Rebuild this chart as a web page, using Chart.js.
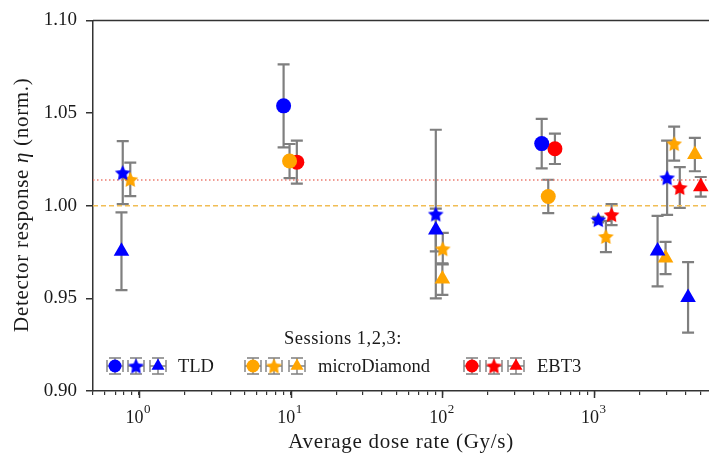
<!DOCTYPE html>
<html>
<head>
<meta charset="utf-8">
<script src="https://cdn.jsdelivr.net/npm/chart.js@4.4.0/dist/chart.umd.min.js"></script>
<style>
    html, body { margin: 0; padding: 0; background: #fff; }
</style>
</head>
<body>
<canvas id="grafico" width="709" height="458"></canvas>
<script>
// Dados (taxa de dose em Gy/s, resposta normalizada, erro)
// TLD
const doseTLD1 = [9.0, 451];
const etaTLD1 = [1.0539, 1.0335];
const errTLD1 = [0.0224, 0.0134];
const doseTLD2 = [0.785, 90.5, 1063, 3020];
const etaTLD2 = [1.0178, 0.9955, 0.9925, 1.0151];
const errTLD2 = [0.017, 0.0455, 0.0015, 0.020];
const doseTLD3 = [0.77, 90.5, 2613, 4150];
const etaTLD3 = [0.9754, 0.9869, 0.9755, 0.9505];
const errTLD3 = [0.021, 0.0115, 0.019, 0.019];

// microDiamond
const doseMD1 = [9.85, 498];
const etaMD1 = [1.0241, 1.005];
const errMD1 = [0.0092, 0.009];
const doseMD2 = [0.88, 100.6, 1194, 3360];
const etaMD2 = [1.0142, 0.9768, 0.9834, 1.0335];
const errMD2 = [0.009, 0.0085, 0.0084, 0.0092];
const doseMD3 = [100, 2950, 4600];
const etaMD3 = [0.9604, 0.9718, 1.0276];
const errMD3 = [0.0085, 0.0087, 0.009];

// EBT3
const doseEBT1 = [11.0, 551];
const etaEBT1 = [1.0235, 1.0307];
const errEBT1 = [0.0116, 0.0082];
const doseEBT2 = [1301, 3660];
const etaEBT2 = [0.9952, 1.0098];
const errEBT2 = [0.0057, 0.011];
const doseEBT3 = [5030];
const etaEBT3 = [1.0102];
const errEBT3 = [0.0053];

// Linhas de referência
const refEBT = 1.0139;
const refMD = 1.000;

// Eixos
const xMin = 0.5;
const xMax = 5700;
const xDecadas = [1, 10, 100, 1000];
const xExpoentes = ['0', '1', '2', '3'];
const yTicks = [0.90, 0.95, 1.00, 1.05, 1.10];

const FONTE = "'Liberation Serif', 'DejaVu Serif', serif";
const COR_TEXTO = '#1a1a1a';
const COR_EIXO = '#333333';
const COR_ERRO = '#7f7f7f';
const AZUL = '#0000ff';
const LARANJA = '#ffa500';
const VERMELHO = '#ff0000';

// Estrela preenchida (o 'star' do Chart.js é só contorno)
function criarEstrela(cor, raio) {
    const c = document.createElement('canvas');
    const tam = Math.ceil(raio * 2 + 2);
    c.width = tam;
    c.height = tam;
    const ctx = c.getContext('2d');
    ctx.fillStyle = cor;
    ctx.beginPath();
    for (let i = 0; i < 10; i++) {
        const r = i % 2 === 0 ? raio : raio * 0.5;
        const a = -Math.PI / 2 + i * Math.PI / 5;
        const px = tam / 2 + r * Math.cos(a);
        const py = tam / 2 + 0.8 + r * Math.sin(a);
        if (i === 0) ctx.moveTo(px, py); else ctx.lineTo(px, py);
    }
    ctx.closePath();
    ctx.fill();
    return c;
}

const estrelaAzul = criarEstrela(AZUL, 8.2);
const estrelaLaranja = criarEstrela(LARANJA, 8.2);
const estrelaVermelha = criarEstrela(VERMELHO, 8.2);

const series = [
    { cor: AZUL, estilo: 'circle', raio: 7.5, x: doseTLD1, y: etaTLD1, err: errTLD1 },
    { cor: AZUL, estilo: estrelaAzul, raio: 8, x: doseTLD2, y: etaTLD2, err: errTLD2 },
    { cor: AZUL, estilo: 'triangle', raio: 9, x: doseTLD3, y: etaTLD3, err: errTLD3 },
    { cor: LARANJA, estilo: 'circle', raio: 7.5, x: doseMD1, y: etaMD1, err: errMD1 },
    { cor: LARANJA, estilo: estrelaLaranja, raio: 8, x: doseMD2, y: etaMD2, err: errMD2 },
    { cor: LARANJA, estilo: 'triangle', raio: 9, x: doseMD3, y: etaMD3, err: errMD3 },
    { cor: VERMELHO, estilo: 'circle', raio: 7.5, x: doseEBT1, y: etaEBT1, err: errEBT1 },
    { cor: VERMELHO, estilo: estrelaVermelha, raio: 8, x: doseEBT2, y: etaEBT2, err: errEBT2 },
    { cor: VERMELHO, estilo: 'triangle', raio: 9, x: doseEBT3, y: etaEBT3, err: errEBT3 }
];

const datasets = series.map(s => ({
    type: 'scatter',
    data: s.x.map((v, i) => ({ x: v, y: s.y[i] })),
    pointStyle: s.estilo,
    pointRadius: s.raio,
    pointHoverRadius: s.raio,
    backgroundColor: s.cor,
    borderColor: s.cor,
    borderWidth: 0
}));

datasets.push({
    type: 'line',
    data: [{ x: xMin, y: refEBT }, { x: xMax, y: refEBT }],
    borderColor: '#ec7c70',
    borderWidth: 1.5,
    borderDash: [1.5, 2.5],
    pointRadius: 0,
    order: 10
});
datasets.push({
    type: 'line',
    data: [{ x: xMin, y: refMD }, { x: xMax, y: refMD }],
    borderColor: '#f1bd55',
    borderWidth: 1.4,
    borderDash: [5, 3],
    pointRadius: 0,
    order: 10
});

// Barras de erro desenhadas atrás dos marcadores
const barrasErro = {
    id: 'barrasErro',
    beforeDatasetsDraw(chart) {
        const ctx = chart.ctx;
        const xs = chart.scales.x;
        const ys = chart.scales.y;
        ctx.save();
        ctx.strokeStyle = COR_ERRO;
        ctx.lineWidth = 2.2;
        series.forEach(s => {
            s.x.forEach((v, i) => {
                const px = xs.getPixelForValue(v);
                const pTopo = ys.getPixelForValue(s.y[i] + s.err[i]);
                const pBase = ys.getPixelForValue(s.y[i] - s.err[i]);
                ctx.beginPath();
                ctx.moveTo(px, pTopo);
                ctx.lineTo(px, pBase);
                ctx.moveTo(px - 6, pTopo);
                ctx.lineTo(px + 6, pTopo);
                ctx.moveTo(px - 6, pBase);
                ctx.lineTo(px + 6, pBase);
                ctx.stroke();
            });
        });
        ctx.restore();
    }
};

function desenharMarcador(ctx, estilo, cor, x, y, raio) {
    ctx.fillStyle = cor;
    ctx.strokeStyle = cor;
    Chart.helpers.drawPoint(ctx, { pointStyle: estilo, radius: raio, borderWidth: 0, rotation: 0 }, x, y);
}

// Eixos, rótulos e legenda
const decoracao = {
    id: 'decoracao',
    afterDraw(chart) {
        const ctx = chart.ctx;
        const area = chart.chartArea;
        const xs = chart.scales.x;
        ctx.save();

        // borda superior
        ctx.strokeStyle = COR_EIXO;
        ctx.lineWidth = 1.5;
        ctx.beginPath();
        ctx.moveTo(area.left, area.top);
        ctx.lineTo(chart.width, area.top);
        ctx.stroke();

        // ticks maiores do eixo x
        xDecadas.forEach(d => {
            const px = Math.round(xs.getPixelForValue(d)) + 0.5;
            ctx.beginPath();
            ctx.moveTo(px, area.bottom);
            ctx.lineTo(px, area.bottom + 7);
            ctx.stroke();
        });

        // rótulos 10^n
        ctx.fillStyle = COR_TEXTO;
        ctx.textBaseline = 'alphabetic';
        ctx.textAlign = 'left';
        xDecadas.forEach((d, i) => {
            const px = xs.getPixelForValue(d);
            ctx.font = '18px ' + FONTE;
            const wBase = ctx.measureText('10').width;
            ctx.font = '13px ' + FONTE;
            const wExp = ctx.measureText(xExpoentes[i]).width;
            const x0 = px - (wBase + wExp) / 2 - 1;
            ctx.font = '18px ' + FONTE;
            ctx.fillText('10', x0, 423);
            ctx.font = '13px ' + FONTE;
            ctx.fillText(xExpoentes[i], x0 + wBase + 0.5, 413);
        });

        // título do eixo x
        ctx.save();
        ctx.letterSpacing = '0.7px';
        ctx.font = '21px ' + FONTE;
        ctx.textAlign = 'center';
        ctx.fillText('Average dose rate (Gy/s)', (area.left + chart.width) / 2, 448);
        ctx.restore();

        // título do eixo y com η em itálico
        ctx.save();
        ctx.translate(22, (area.top + area.bottom) / 2 - 1);
        ctx.rotate(-Math.PI / 2);
        ctx.textBaseline = 'middle';
        ctx.textAlign = 'left';
        ctx.letterSpacing = '0.7px';
        const partes = [
            { t: 'Detector response ', f: '21px ' + FONTE },
            { t: 'η', f: 'italic 21px ' + FONTE },
            { t: ' (norm.)', f: '21px ' + FONTE }
        ];
        let total = 0;
        partes.forEach(p => { ctx.font = p.f; p.w = ctx.measureText(p.t).width; total += p.w; });
        let cx = -total / 2;
        partes.forEach(p => { ctx.font = p.f; ctx.fillText(p.t, cx, 0); cx += p.w; });
        ctx.restore();

        // legenda
        ctx.save();
        ctx.letterSpacing = '0.5px';
        ctx.font = '18.5px ' + FONTE;
        ctx.textAlign = 'center';
        ctx.fillText('Sessions 1,2,3:', 343, 344);
        ctx.restore();

        const grupos = [
            { nome: 'TLD', cor: AZUL, xs: [115, 136, 158], xTexto: 178, estrela: estrelaAzul },
            { nome: 'microDiamond', cor: LARANJA, xs: [253, 274, 297], xTexto: 318, estrela: estrelaLaranja },
            { nome: 'EBT3', cor: VERMELHO, xs: [472, 494, 516], xTexto: 537, estrela: estrelaVermelha }
        ];
        const yLeg = 366;
        grupos.forEach(g => {
            g.xs.forEach((hx, k) => {
                ctx.strokeStyle = COR_ERRO;
                ctx.lineWidth = 1.4;
                ctx.beginPath();
                ctx.moveTo(hx - 8, yLeg); ctx.lineTo(hx + 8, yLeg);
                ctx.moveTo(hx, yLeg - 8); ctx.lineTo(hx, yLeg + 8);
                ctx.moveTo(hx - 8, yLeg - 6); ctx.lineTo(hx - 8, yLeg + 6);
                ctx.moveTo(hx + 8, yLeg - 6); ctx.lineTo(hx + 8, yLeg + 6);
                ctx.moveTo(hx - 6, yLeg - 8); ctx.lineTo(hx + 6, yLeg - 8);
                ctx.moveTo(hx - 6, yLeg + 8); ctx.lineTo(hx + 6, yLeg + 8);
                ctx.stroke();
                const estilo = k === 0 ? 'circle' : (k === 1 ? g.estrela : 'triangle');
                desenharMarcador(ctx, estilo, g.cor, hx, yLeg, k === 0 ? 6.5 : 7.5);
            });
            ctx.fillStyle = COR_TEXTO;
            ctx.font = '18.5px ' + FONTE;
            ctx.textAlign = 'left';
            ctx.fillText(g.nome, g.xTexto, 372);
        });

        ctx.restore();
    }
};

const ctxGrafico = document.getElementById('grafico').getContext('2d');

new Chart(ctxGrafico, {
    data: { datasets: datasets },
    options: {
        responsive: false,
        animation: false,
        events: [],
        layout: { autoPadding: false, padding: { top: 17, left: 0, right: 0, bottom: 0 } },
        plugins: {
            legend: { display: false },
            tooltip: { enabled: false }
        },
        scales: {
            x: {
                type: 'logarithmic',
                min: xMin,
                max: xMax,
                afterBuildTicks: scale => {
                    const lista = [];
                    for (let d = 0.1; d <= 1000; d *= 10) {
                        for (let m = 1; m <= 9; m++) {
                            const v = Math.round(d * m * 1000) / 1000;
                            if (v >= xMin && v <= xMax) lista.push({ value: v });
                        }
                    }
                    scale.ticks = lista;
                },
                afterFit: scale => {
                    scale.height = 67;
                    scale.paddingLeft = 0;
                    scale.paddingRight = 0;
                },
                ticks: { display: false },
                grid: { drawOnChartArea: false, tickLength: 4, color: COR_EIXO, lineWidth: 1.2 },
                border: { display: true, color: COR_EIXO, width: 1.5 }
            },
            y: {
                type: 'linear',
                min: 0.9,
                max: 1.1,
                afterBuildTicks: scale => { scale.ticks = yTicks.map(v => ({ value: v })); },
                afterFit: scale => { scale.width = 93; },
                ticks: {
                    color: COR_TEXTO,
                    font: { family: FONTE, size: 19 },
                    padding: 9,
                    callback: v => Number(v).toFixed(2)
                },
                grid: { drawOnChartArea: false, tickLength: 7, color: COR_EIXO, lineWidth: 1.5 },
                border: { display: true, color: COR_EIXO, width: 1.5 }
            }
        }
    },
    plugins: [barrasErro, decoracao]
});
</script>
</body>
</html>
